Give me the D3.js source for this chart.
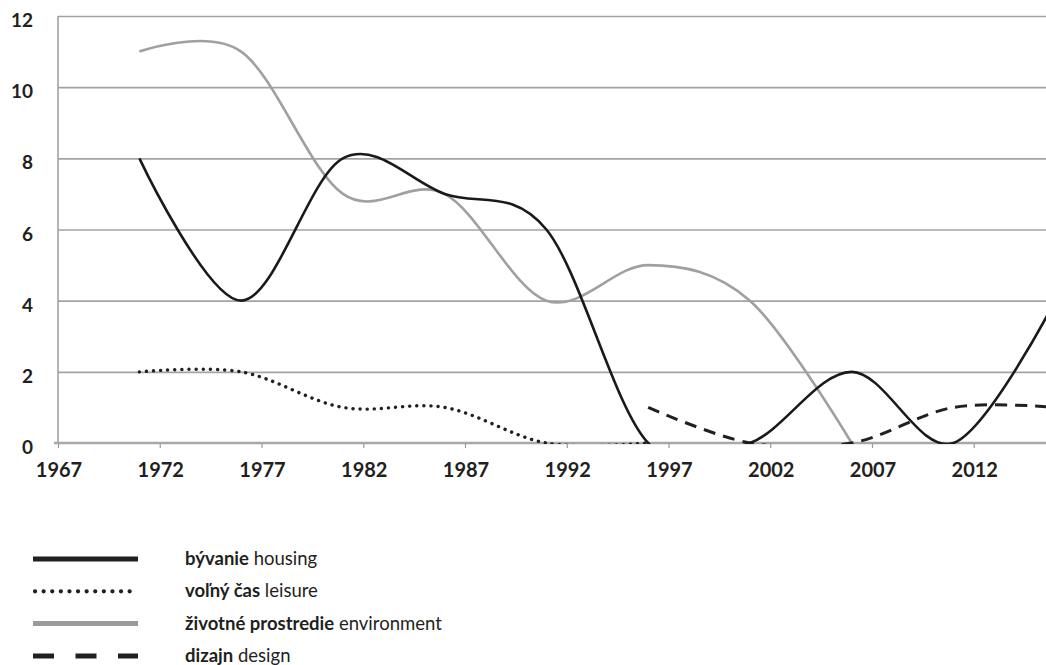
<!DOCTYPE html>
<html>
<head>
<meta charset="utf-8">
<script src="https://cdn.jsdelivr.net/npm/d3@7"></script>
<style>
  html, body { margin: 0; padding: 0; background: #fff; }
  svg { display: block; font-family: "Lato", "Noto Sans", sans-serif; }
</style>
</head>
<body>
<div id="chart"></div>
<script>
// data points every 5 years, first at 1971
const years = [1971, 1976, 1981, 1986, 1991, 1996, 2001, 2006, 2011, 2016];
const housing = [8, 4, 8, 7, 6, 0, 0, 2, 0, 4];
const leisure = [2, 2, 1, 1, 0, 0, null, null, null, null];
const environment = [11, 11, 7, 7, 4, 5, 4, 0, null, null];
const design = [null, null, null, null, null, 1, 0, 0, 1, 1];

const xTicks = [1967, 1972, 1977, 1982, 1987, 1992, 1997, 2002, 2007, 2012];
const yTicks = [0, 2, 4, 6, 8, 10, 12];

const legendBold = ['bývanie', 'voľný čas', 'životné prostredie', 'dizajn'];
const legendRest = ['housing', 'leisure', 'environment', 'design'];

const width = 1046;
const height = 665;
const margin = { top: 16, left: 58, bottom: 222 };

const svg = d3.select('#chart')
  .append('svg')
  .attr('width', width)
  .attr('height', height);

const x = d3.scaleLinear()
  .domain([1967, 2017])
  .range([margin.left, margin.left + 50 * 20.35]);

const y = d3.scaleLinear()
  .domain([0, 12])
  .range([height - margin.bottom, margin.top]);

// gridlines
svg.append('g')
  .attr('transform', `translate(${margin.left},0)`)
  .call(d3.axisLeft(y).tickValues(yTicks.filter(d => d > 0)).tickSize(-(width - margin.left)).tickFormat(''))
  .call(g => g.select('.domain').remove())
  .call(g => g.selectAll('.tick line').attr('stroke', '#a3a3a3').attr('stroke-width', 1.6));

// y axis line
svg.append('line')
  .attr('x1', margin.left).attr('x2', margin.left)
  .attr('y1', y(12)).attr('y2', y(0))
  .attr('stroke', '#a3a3a3').attr('stroke-width', 1.6);

// y labels
svg.append('g')
  .selectAll('text')
  .data(yTicks)
  .join('text')
  .attr('x', 33)
  .attr('y', d => y(d) + 11)
  .attr('text-anchor', 'end')
  .attr('font-size', 19)
  .attr('font-weight', 700)
  .attr('fill', '#231f20')
  .text(d => d);

// x axis
svg.append('g')
  .attr('transform', `translate(0,${y(0)})`)
  .call(d3.axisBottom(x).tickValues(xTicks).tickSize(5).tickFormat(''))
  .call(g => g.select('.domain').remove())
  .call(g => g.selectAll('.tick line').attr('stroke', '#999').attr('stroke-width', 1.2));

svg.append('line')
  .attr('x1', margin.left - 4).attr('x2', width)
  .attr('y1', y(0)).attr('y2', y(0))
  .attr('stroke', '#a8a8a8').attr('stroke-width', 2.6);

svg.append('g')
  .selectAll('text')
  .data(xTicks)
  .join('text')
  .attr('x', d => x(d) + 1)
  .attr('y', 477)
  .attr('text-anchor', 'middle')
  .attr('font-size', 20)
  .attr('font-weight', 700)
  .attr('fill', '#231f20')
  .text(d => d);

// clip to the plot area
svg.append('clipPath')
  .attr('id', 'plot')
  .append('rect')
  .attr('x', margin.left)
  .attr('y', 0)
  .attr('width', width - margin.left)
  .attr('height', y(0) + 1);

const line = d3.line()
  .defined(d => d[1] != null)
  .x(d => x(d[0]))
  .y(d => y(d[1]))
  .curve(d3.curveCardinal.tension(0));

const series = [
  { values: environment, color: '#a0a0a0', width: 2.6, dash: null, cap: 'butt' },
  { values: leisure, color: '#231f20', width: 3.4, dash: '0.1 7', cap: 'round' },
  { values: design, color: '#231f20', width: 3, dash: '12 8', cap: 'butt' },
  { values: housing, color: '#1a1a1a', width: 2.6, dash: null, cap: 'butt' }
];

const plot = svg.append('g').attr('clip-path', 'url(#plot)');

plot.selectAll('path')
  .data(series)
  .join('path')
  .attr('d', s => line(years.map((yr, i) => [yr, s.values[i]])))
  .attr('fill', 'none')
  .attr('stroke', s => s.color)
  .attr('stroke-width', s => s.width)
  .attr('stroke-dasharray', s => s.dash)
  .attr('stroke-linecap', s => s.cap);

// legend
const legendStyle = [
  { color: '#231f20', width: 5, dash: null, cap: 'butt' },
  { color: '#231f20', width: 4.2, dash: '0.1 8.5', cap: 'round' },
  { color: '#9a9a9a', width: 5, dash: null, cap: 'butt' },
  { color: '#231f20', width: 5, dash: '21 21.5', cap: 'butt' }
];

const legend = svg.append('g')
  .selectAll('g')
  .data(legendBold)
  .join('g')
  .attr('transform', (d, i) => `translate(0,${559 + i * 32.3})`);

legend.append('line')
  .attr('x1', (d, i) => i === 1 ? 35 : 33)
  .attr('x2', 138)
  .attr('stroke', (d, i) => legendStyle[i].color)
  .attr('stroke-width', (d, i) => legendStyle[i].width)
  .attr('stroke-dasharray', (d, i) => legendStyle[i].dash)
  .attr('stroke-linecap', (d, i) => legendStyle[i].cap);

const lt = legend.append('text')
  .attr('x', 185)
  .attr('y', 6)
  .attr('font-size', 18.5)
  .attr('fill', '#231f20');

lt.append('tspan').attr('font-weight', 700).text(d => d);
lt.append('tspan').attr('font-weight', 400).text((d, i) => ' ' + legendRest[i]);
</script>
</body>
</html>
